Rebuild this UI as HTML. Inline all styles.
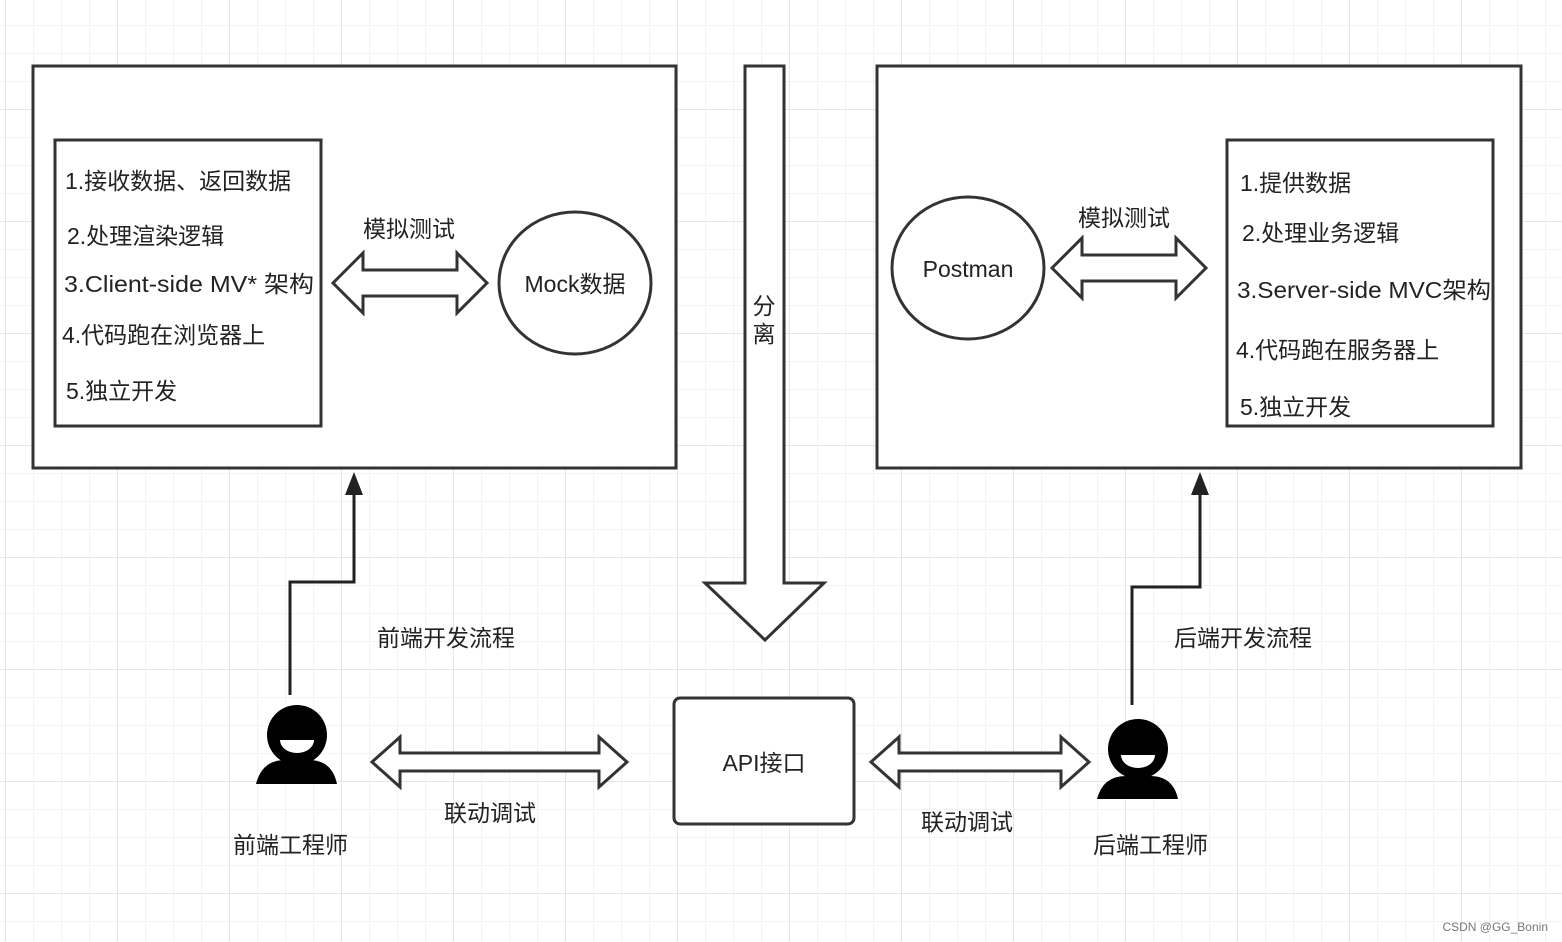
<!DOCTYPE html>
<html><head><meta charset="utf-8"><style>
html,body{margin:0;padding:0;background:#fff}
svg{display:block}
text{font-family:"Liberation Sans","Noto Sans CJK SC",sans-serif;fill:#222}
</style></head><body>
<svg width="1562" height="942" viewBox="0 0 1562 942" xmlns="http://www.w3.org/2000/svg">
<defs>
<pattern id="g" x="5" y="-3" width="28" height="28" patternUnits="userSpaceOnUse">
<path d="M0 0H28M0 0V28" stroke="#efefef" stroke-width="1.5" fill="none"/></pattern>
<pattern id="G" x="5" y="-3" width="112" height="112" patternUnits="userSpaceOnUse">
<path d="M0 0H112M0 0V112" stroke="#e6e6e6" stroke-width="2" fill="none"/></pattern>
</defs>
<rect width="1562" height="942" fill="url(#g)"/>
<rect width="1562" height="942" fill="url(#G)"/>
<g stroke="#333" stroke-width="3" fill="#fff">
<rect x="33" y="66" width="643" height="402"/>
<rect x="55" y="140" width="266" height="286"/>
<ellipse cx="575" cy="283" rx="76" ry="71"/>
<path d="M333 283 L363 253 V270 H457 V253 L487 283 L457 313 V296 H363 V313 Z"/>
<path d="M745 66 H784 V583 H824 L765 640 L705 583 H745 Z"/>
<rect x="877" y="66" width="644" height="402"/>
<rect x="1227" y="140" width="266" height="286"/>
<ellipse cx="968" cy="268" rx="76" ry="71"/>
<path d="M1052 268 L1082 238 V255 H1176 V238 L1206 268 L1176 298 V281 H1082 V298 Z"/>
<rect x="674" y="698" width="180" height="126" rx="6"/>
<path d="M372 762 L400 737 V753 H599 V737 L627 762 L599 787 V771 H400 V787 Z"/>
<path d="M871 762 L899 737 V753 H1061 V737 L1089 762 L1061 787 V771 H899 V787 Z"/>
</g>
<g stroke="#222" stroke-width="3" fill="none">
<path d="M290 695 V582 H354 V490"/>
<path d="M1132 705 V587 H1200 V490"/>
</g>
<path d="M345 495 L354 472 L363 495 Z" fill="#222"/>
<path d="M1191 495 L1200 472 L1209 495 Z" fill="#222"/>
<g fill="#000">
<circle cx="297" cy="735" r="30"/><path d="M256 784 Q262 760 285 760 A36 36 0 0 0 309 760 Q332 760 337 784 Z"/>
<circle cx="1138" cy="749" r="30"/><path d="M1097 799 Q1103 776 1126 776 A36 36 0 0 0 1150 776 Q1173 776 1178 799 Z"/>
</g>
<g fill="#fff">
<path d="M280 740 H314 A17 13 0 0 1 280 740 Z"/>
<path d="M1121 755 H1155 A17 13 0 0 1 1121 755 Z"/>
</g>
<g font-size="23">
<text x="65" y="189">1.接收数据、返回数据</text>
<text x="67" y="244">2.处理渲染逻辑</text>
<text x="64" y="292" textLength="250" lengthAdjust="spacingAndGlyphs">3.Client-side MV* 架构</text>
<text x="62" y="343">4.代码跑在浏览器上</text>
<text x="66" y="399">5.独立开发</text>
<text x="363" y="237">模拟测试</text>
<text x="575" y="292" text-anchor="middle">Mock数据</text>
<text x="1240" y="191">1.提供数据</text>
<text x="1242" y="241">2.处理业务逻辑</text>
<text x="1237" y="298" textLength="254" lengthAdjust="spacingAndGlyphs">3.Server-side MVC架构</text>
<text x="1236" y="358">4.代码跑在服务器上</text>
<text x="1240" y="415">5.独立开发</text>
<text x="1078" y="226">模拟测试</text>
<text x="968" y="277" text-anchor="middle">Postman</text>
<text x="764" y="314" text-anchor="middle">分</text>
<text x="764" y="342" text-anchor="middle">离</text>
<text x="377" y="646">前端开发流程</text>
<text x="1174" y="646">后端开发流程</text>
<text x="764" y="771" text-anchor="middle">API接口</text>
<text x="444" y="821">联动调试</text>
<text x="921" y="830">联动调试</text>
<text x="233" y="853">前端工程师</text>
<text x="1093" y="853">后端工程师</text>
</g>
<text x="1548" y="931" font-size="12" text-anchor="end" style="fill:#777">CSDN @GG_Bonin</text>
</svg>
</body></html>
